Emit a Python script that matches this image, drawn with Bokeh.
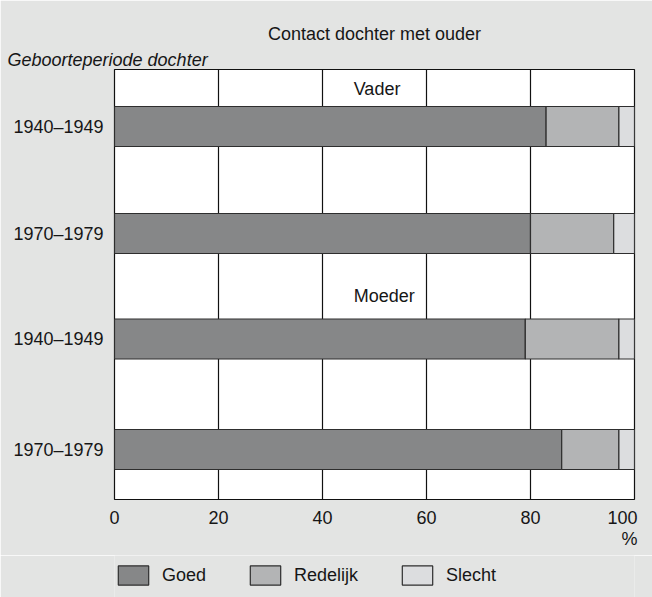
from bokeh.plotting import figure
from bokeh.layouts import column
from bokeh.models import (Range1d, FixedTicker, Legend, LegendItem, Label, Title,
                          ColumnDataSource, LinearAxis)
from bokeh.embed import file_html
from bokeh.resources import INLINE

# ---- data ----
periods = ["1940–1949", "1970–1979", "1940–1949", "1970–1979"]
parents = ["Vader", "Moeder"]
categories = ["Goed", "Redelijk", "Slecht"]
goed = [83, 80, 79, 86]
redelijk = [14, 16, 18, 11]
slecht = [3, 4, 3, 3]
x_ticks = [0, 20, 40, 60, 80, 100]
unit_label = "%"

# ---- layout positions (plot units, top = 0) ----
row_pos = [0.57, 1.64, 2.695, 3.80]
parent_label_pos = [0.19, 2.26]

FONT = "Liberation Sans"
FS = "18px"
TXT = "#161616"
BG = "#e3e4e3"
COLORS = ["#868788", "#b3b4b5", "#dcdddf"]
EDGE = "#2e2e2e"

g_end = goed
r_end = [g + r for g, r in zip(goed, redelijk)]
s_end = [g + r + s for g, r, s in zip(goed, redelijk, slecht)]
src = ColumnDataSource(dict(y=row_pos, zero=[0] * 4, g_end=g_end, r_end=r_end, s_end=s_end))
segments = list(zip(["zero", "g_end", "r_end"], ["g_end", "r_end", "s_end"], COLORS))

p = figure(width=652, height=555, frame_width=520, frame_height=430,
           min_border_left=114, min_border_right=18, min_border_top=69, min_border_bottom=56,
           x_range=Range1d(0, 100), y_range=Range1d(4.30, 0),
           output_backend="svg", toolbar_location=None)

p.background_fill_color = "white"
p.border_fill_color = BG
p.outline_line_color = "#111111"
p.outline_line_width = 1.2

p.title.text = "Contact dochter met ouder"
p.title.align = "center"
p.title.text_font = FONT
p.title.text_font_size = FS
p.title.text_font_style = "normal"
p.title.text_color = TXT
p.title.standoff = 7

t2 = Title(text="Geboorteperiode dochter", align="left", offset=-107, standoff=0,
           text_font=FONT, text_font_size=FS, text_font_style="italic",
           text_color=TXT)
p.add_layout(t2, "above")

# grid
p.ygrid.visible = False
p.xgrid.ticker = FixedTicker(ticks=x_ticks)
p.xgrid.grid_line_color = "#111111"
p.xgrid.grid_line_width = 1.2

# bars
for left, right, color in segments:
    p.hbar(y="y", left=left, right=right, height=0.40, source=src,
           fill_color=color, line_color=EDGE, line_width=1.2)

# parent labels
for name, pos in zip(parents, parent_label_pos):
    p.add_layout(Label(x=46, y=pos, text=name, text_align="left", text_baseline="middle",
                       text_font=FONT, text_font_size=FS, text_color=TXT))


def style_axis(ax, standoff):
    ax.axis_line_color = None
    ax.major_tick_line_color = None
    ax.minor_tick_line_color = None
    ax.major_tick_in = 0
    ax.major_tick_out = 0
    ax.major_label_standoff = standoff
    ax.major_label_text_font = FONT
    ax.major_label_text_font_size = FS
    ax.major_label_text_color = TXT


# axes
xa = p.xaxis[0]
xa.ticker = FixedTicker(ticks=x_ticks)
xa.major_label_overrides = {100: "100   "}
style_axis(xa, 8)

xa2 = LinearAxis(ticker=FixedTicker(ticks=[x_ticks[-1]]),
                 major_label_overrides={x_ticks[-1]: unit_label + "  "})
style_axis(xa2, -2)
p.add_layout(xa2, "below")

ya = p.yaxis[0]
ya.ticker = FixedTicker(ticks=row_pos)
ya.major_label_overrides = {pos: lab for pos, lab in zip(row_pos, periods)}
style_axis(ya, 11)

# ---- legend strip (separate small figure; proxy bars lie outside its view) ----
pl = figure(width=652, height=42, x_range=Range1d(0, 100), y_range=Range1d(10, 11),
            x_axis_type=None, y_axis_type=None, min_border=0,
            output_backend="svg", toolbar_location=None)
pl.background_fill_color = BG
pl.border_fill_color = BG
pl.outline_line_color = None
pl.grid.visible = False

items = []
for name, (left, right, color) in zip(categories, segments):
    r = pl.hbar(y="y", left=left, right=right, height=0.40, source=src,
                fill_color=color, line_color=EDGE, line_width=1.2)
    items.append(LegendItem(label=name, renderers=[r]))

legend = Legend(items=items, orientation="horizontal", location=(0, 10),
                glyph_width=38, glyph_height=24, label_standoff=10, spacing=40,
                padding=0, margin=0, border_line_color=None, background_fill_alpha=0,
                label_text_font=FONT, label_text_font_size=FS, label_text_color=TXT)
pl.add_layout(legend)

layout = column(p, pl, spacing=0)
open("out.html", "w").write(file_html(layout, INLINE))
